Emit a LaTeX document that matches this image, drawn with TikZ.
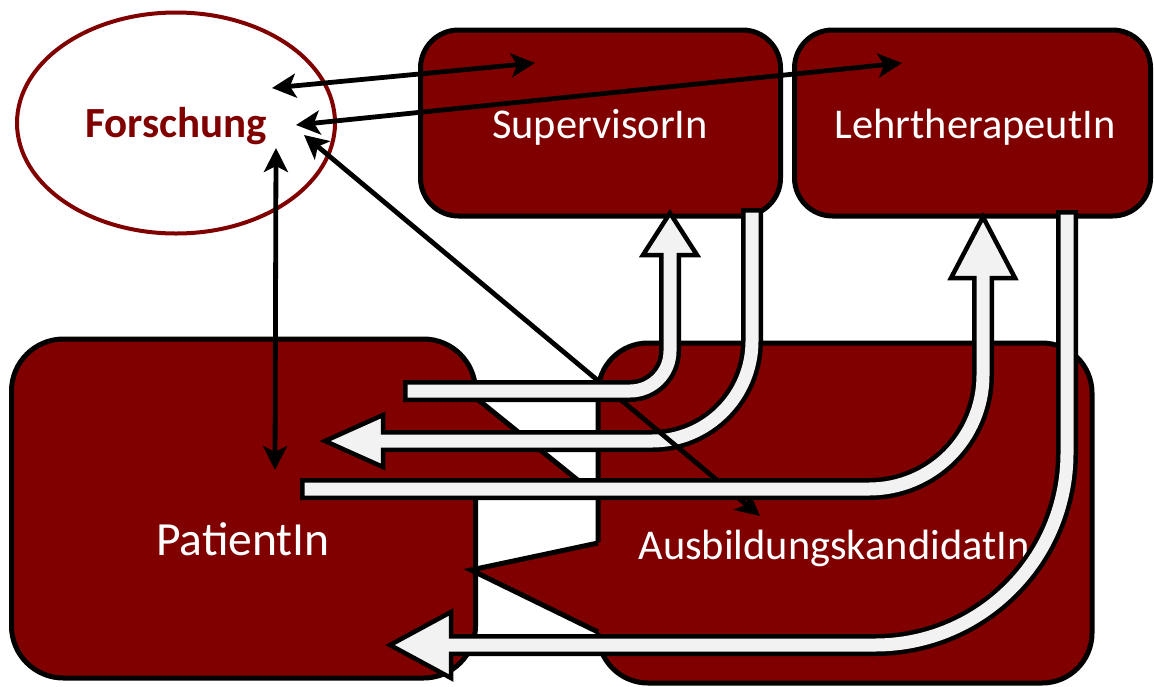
\documentclass[tikz,border=0pt]{standalone}
\usepackage{fontspec}
\setmainfont{Carlito}
\usetikzlibrary{positioning}
\usetikzlibrary{arrows.meta}
\usetikzlibrary{calc}
\usetikzlibrary{shapes.geometric}

\definecolor{bordeaux}{HTML}{800000}
\definecolor{barfill}{HTML}{F2F2F2}

\tikzset{
  role/.style={draw=black, line width=2.5pt, fill=bordeaux, rounded corners=19pt, inner sep=0pt},
  rolelabel/.style={text=white, font=\fontsize{21.2}{25}\selectfont, anchor=base, inner sep=0pt},
  relation/.style={{Stealth[length=12pt,width=12pt,inset=3pt]}-{Stealth[length=12pt,width=12pt,inset=3pt]}, line width=2.4pt},
  barout/.style={draw=black, line width=11pt},
  barin/.style={draw=barfill, line width=6.5pt, shorten <=2.25pt},
  barhead/.style={draw=black, fill=barfill, line width=2.25pt, line join=miter},
  linkedge/.style={draw=black, line width=2.5pt},
}

\begin{document}
\begin{tikzpicture}[x=0.5pt, y=-0.5pt]
    \useasboundingbox (0,0) rectangle (1154,686);

    % Forschung
    \node[ellipse, draw=bordeaux, line width=2pt, minimum width=159pt, minimum height=110.5pt, inner sep=0pt] (forschung) at (176,123) {};
    \node[text=bordeaux, font=\bfseries\fontsize{21.5}{25}\selectfont, anchor=base, inner sep=0pt] (forschunglabel) at (176,137) {Forschung};

    % Rollen
    \node[role, minimum width=180pt, minimum height=93pt] (supervisor) at (600.5,123) {};
    \node[rolelabel] (supervisorlabel) at (600,138) {SupervisorIn};
    \node[role, minimum width=178pt, minimum height=93pt] (lehr) at (972.5,123) {};
    \node[rolelabel] (lehrlabel) at (975,138) {LehrtherapeutIn};
    \node[role, rounded corners=26pt, minimum width=232pt, minimum height=169.5pt] (patient) at (243.5,508.5) {};
    \node[rolelabel, font=\fontsize{23.8}{28}\selectfont] (patientlabel) at (243,555) {PatientIn};
    \node[role, rounded corners=25pt, minimum width=247pt, minimum height=170pt] (kandidat) at (845,513) {};
    \node[rolelabel] (kandidatlabel) at (834,559) {AusbildungskandidatIn};

    % Verbindung PatientIn - AusbildungskandidatIn
    \fill[bordeaux] (460,385) -- (590,490) -- (460,490) -- cycle;
    \draw[linkedge] (476,398) -- (585,486);
    \fill[bordeaux] (603,541) -- (598,543) -- (471,570) -- (598,632) -- (603,634) -- cycle;
    \draw[linkedge, line join=miter] (598,543) -- (471,570) -- (598,632);

    % Endpunkte
    \coordinate (ps start) at (403,391);
    \coordinate (ps base) at (670,255);
    \coordinate (ps tip) at (670,213);
    \coordinate (sp start) at (752,208);
    \coordinate (sp base) at (383,441);
    \coordinate (sp tip) at (325,441);
    \coordinate (pl start) at (300,489);
    \coordinate (pl base) at (983,278);
    \coordinate (pl tip) at (983,217);
    \coordinate (lp start) at (1067,210);
    \coordinate (lp base) at (451,645);
    \coordinate (lp tip) at (390,645);

    % SupervisorIn -> PatientIn
    \draw[barout, rounded corners=50pt] (sp start) |- (sp base);
    \draw[barhead] ($(sp base)+(0,-26)$) -- (sp tip) -- ($(sp base)+(0,26)$) -- cycle;
    \draw[barin, rounded corners=50pt] (sp start) |- ($(sp base)+(-6,0)$);

    % Forschung <-> alle
    \coordinate (fs) at (272,88);
    \coordinate (sf) at (535,63);
    \coordinate (fl) at (296,125);
    \coordinate (lf) at (902,63);
    \coordinate (fp) at (276,148);
    \coordinate (pf) at (275,470);
    \coordinate (fk) at (304,135);
    \coordinate (kf) at (760,516);
    \draw[relation] (fs) -- (sf);
    \draw[relation] (fl) -- (lf);
    \draw[relation] (fp) -- (pf);
    \draw[relation] (fk) -- (kf);

    % PatientIn -> SupervisorIn
    \draw[barout, rounded corners=20pt] (ps start) -| (ps base);
    \draw[barhead] ($(ps base)+(-27,0)$) -- (ps tip) -- ($(ps base)+(27,0)$) -- cycle;
    \draw[barin, rounded corners=20pt] (ps start) -| ($(ps base)+(0,-6)$);

    % PatientIn -> LehrtherapeutIn
    \draw[barout, rounded corners=57pt] (pl start) -| (pl base);
    \draw[barhead] ($(pl base)+(-32,0)$) -- (pl tip) -- ($(pl base)+(32,0)$) -- cycle;
    \draw[barin, rounded corners=57pt] (pl start) -| ($(pl base)+(0,-6)$);

    % LehrtherapeutIn -> PatientIn
    \draw[barout, rounded corners=96pt] (lp start) |- (lp base);
    \draw[barhead] ($(lp base)+(0,-33)$) -- (lp tip) -- ($(lp base)+(0,33)$) -- cycle;
    \draw[barin, rounded corners=96pt] (lp start) |- ($(lp base)+(-6,0)$);
\end{tikzpicture}
\end{document}
